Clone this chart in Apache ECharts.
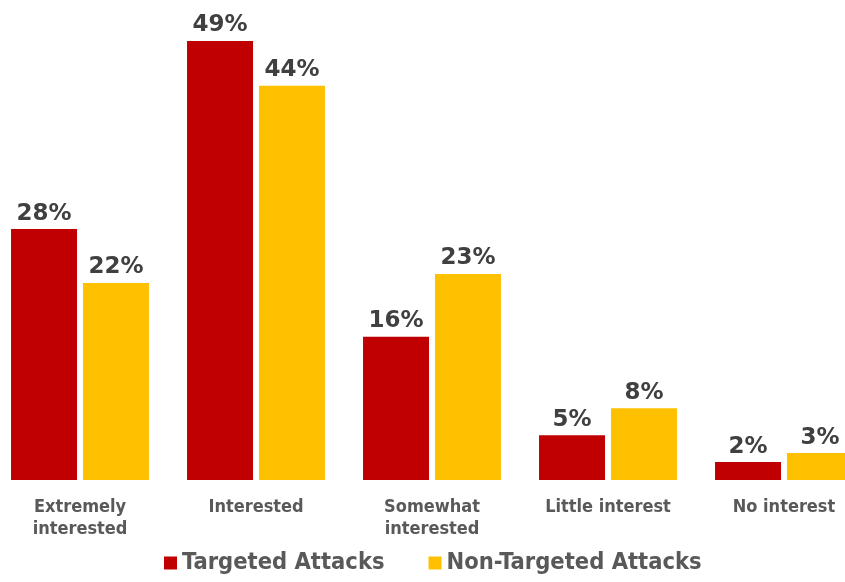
<!DOCTYPE html>
<html>
<head>
<meta charset="utf-8">
<script src="https://cdn.jsdelivr.net/npm/echarts@6/dist/echarts.min.js"></script>
<style>
  html, body { margin: 0; padding: 0; background: #fff; }
  #chart { width: 845px; height: 582px; }
</style>
</head>
<body>
<div id="chart"></div>
<script>
const categories = ['Extremely\ninterested', 'Interested', 'Somewhat\ninterested', 'Little interest', 'No interest'];
const targeted = [28, 49, 16, 5, 2];
const nonTargeted = [22, 44, 23, 8, 3];
const seriesNames = ['Targeted Attacks', 'Non-Targeted Attacks'];
const colors = ['#C00000', '#FFC000'];

const chart = echarts.init(document.getElementById('chart'));
const font = '"DejaVu Sans", Verdana, sans-serif';
const narrow = '"DejaVu Sans Condensed", "DejaVu Sans", sans-serif';

const label = {
  show: true,
  position: 'top',
  distance: 4,
  formatter: '{c}%',
  color: '#404040',
  fontFamily: font,
  fontWeight: 'bold',
  fontSize: 23
};

chart.setOption({
  animation: false,
  color: colors,
  grid: { left: -8, width: 880, top: 32, bottom: 102, outerBoundsMode: 'none', containLabel: false },
  legend: {
    data: seriesNames,
    left: 159,
    bottom: 2,
    icon: 'rect',
    itemWidth: 13,
    itemHeight: 13,
    itemGap: 44,
    textStyle: { color: '#595959', fontFamily: narrow, fontWeight: 'bold', fontSize: 23.5 }
  },
  xAxis: {
    type: 'category',
    data: categories,
    axisLine: { show: false },
    axisTick: { show: false },
    axisLabel: {
      color: '#595959',
      fontFamily: narrow,
      fontWeight: 'bold',
      fontSize: 18,
      lineHeight: 22,
      margin: 16,
      interval: 0
    }
  },
  yAxis: { type: 'value', min: 0, max: 50, show: false, splitLine: { show: false } },
  series: [
    { name: seriesNames[0], type: 'bar', data: targeted, barWidth: 66, barGap: '9%', label },
    { name: seriesNames[1], type: 'bar', data: nonTargeted, barWidth: 66, label }
  ]
});
</script>
</body>
</html>
